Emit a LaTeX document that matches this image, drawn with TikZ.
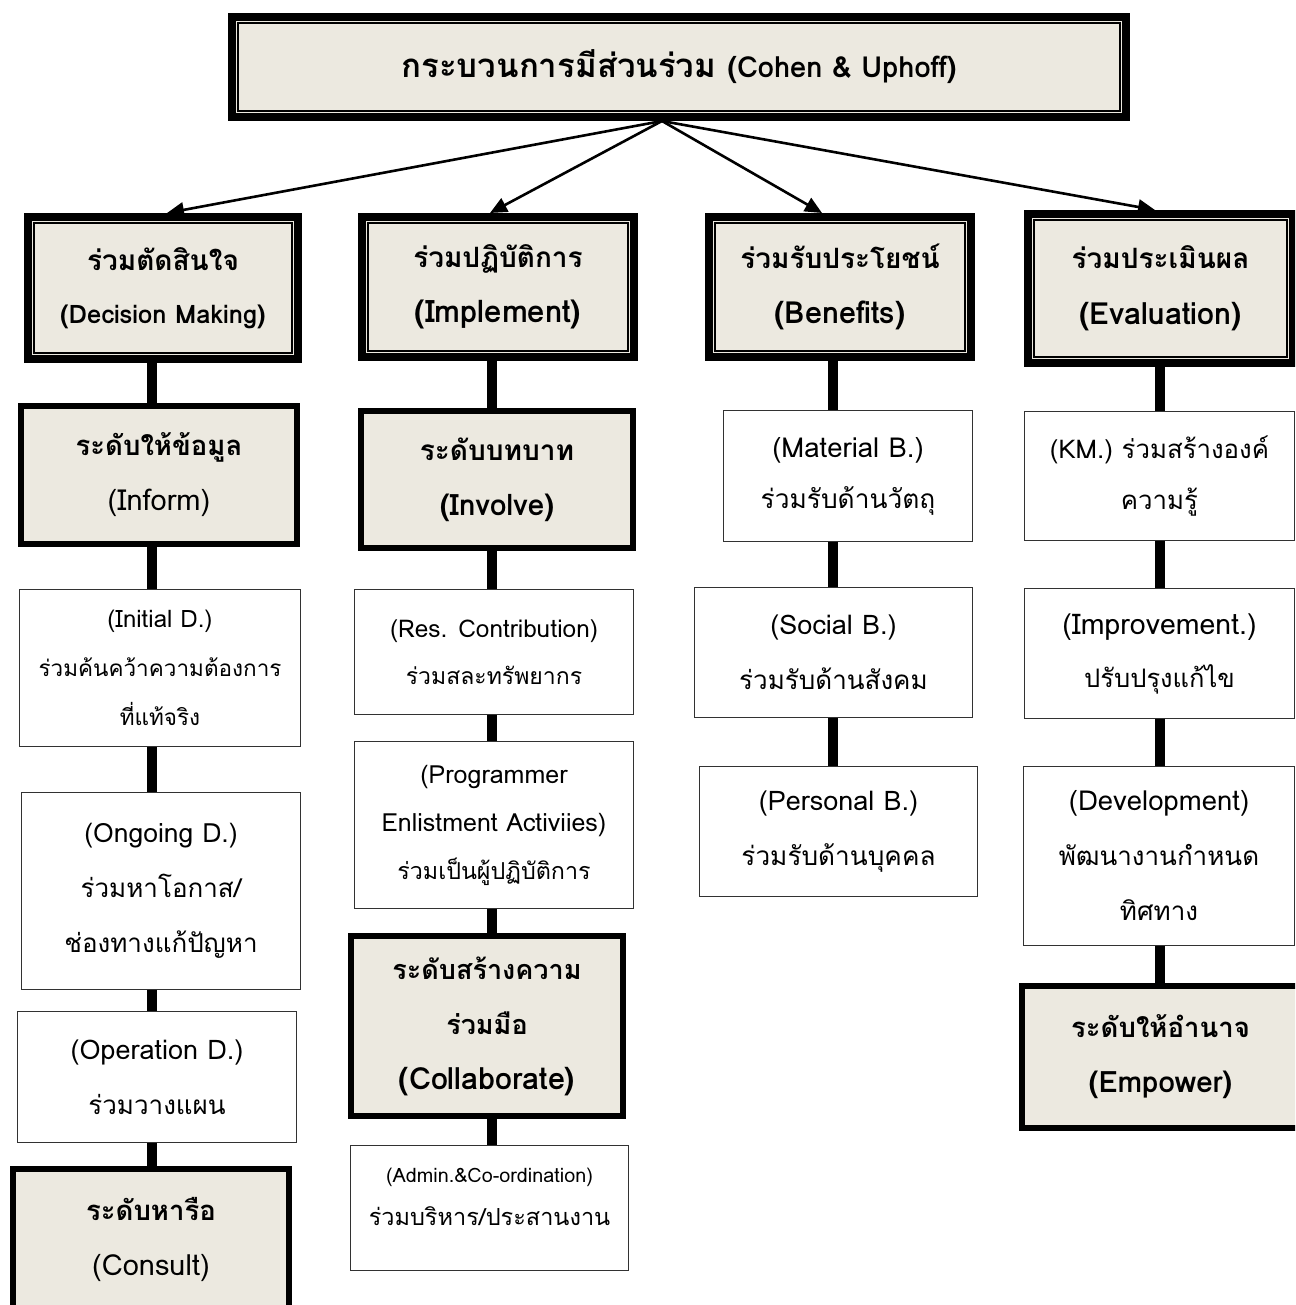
\documentclass[tikz,border=0pt]{standalone}
\usepackage{fontspec}
\setmainfont[Script=Thai]{Loma}
\usetikzlibrary{arrows.meta}
\definecolor{beige}{RGB}{236,233,224}
\definecolor{edgegray}{RGB}{50,50,50}
% name, line width, x1, y1, x2, y2, style, text
\newcommand\bx[8]{\node[#7, line width=#2pt, minimum width={#5-#3-#2}, minimum height={#6-#4-#2}] (#1) at ({(#3+#5)/2},{(#4+#6)/2}) {#8};}
\newcommand\innerframe[1]{\draw[line width=2pt] ([xshift=10pt,yshift=-10pt]#1.north west) rectangle ([xshift=-10pt,yshift=10pt]#1.south east);}
% size, text (line spacing comes from the node font)
\newcommand\fs[2]{{\fontsize{#1}{\baselineskip}\selectfont #2}}
\begin{document}
\begin{tikzpicture}[x=1pt,y=-1pt,
  ls/.style={font=\fontsize{20}{#1}\selectfont},
  hls/.style={font=\fontsize{20}{#1}\selectfont\bfseries},
  hdr/.style={draw=black, fill=beige, inner sep=0pt, align=center},
  lvl/.style={draw=black, fill=beige, inner sep=0pt, align=center},
  sub/.style={draw=edgegray, fill=white, inner sep=0pt, align=center},
  conn/.style={line width=10pt},
  arr/.style={line width=2.6pt, -{Triangle[length=17pt,width=15pt]}}]
\useasboundingbox (0,0) rectangle (1295,1305);
\clip (0,0) rectangle (1295,1305);
\fill[white] (0,0) rectangle (1295,1305);

% title
\bx{top}{8}{228}{13}{1130}{121}{hdr, hls=40}{\fs{33}{กระบวนการมีส่วนร่วม \fs{29}{(Cohen \& Uphoff)}}}
\innerframe{top}

% headers
\bx{h1}{8}{24}{213}{302}{363}{hdr, hls=53}{\fs{28}{ร่วมตัดสินใจ}\\\fs{25.5}{(Decision Making)}}
\bx{h2}{8}{358}{213}{638}{361}{hdr, hls=55}{\fs{28}{ร่วมปฏิบัติการ}\\\fs{31}{(Implement)}}
\bx{h3}{8}{705}{213}{975}{361}{hdr, hls=55}{\fs{28}{ร่วมรับประโยชน์}\\\fs{30.5}{(Benefits)}}
\bx{h4}{8}{1024}{210}{1297}{367}{hdr, hls=56}{\fs{28}{ร่วมประเมินผล}\\\fs{30.5}{(Evaluation)}}
\innerframe{h1}\innerframe{h2}\innerframe{h3}\innerframe{h4}

% column 1
\bx{l1}{6}{18}{403}{300}{547}{lvl, ls=55}{\fs{27.5}{\bfseries ระดับให้ข้อมูล}\\\fs{29}{(Inform)}}
\bx{a1}{1.3}{19}{589}{301}{747}{sub, ls=49}{\fs{24}{(Initial D.)}\\\fs{22.5}{ร่วมค้นคว้าความต้องการ}\\\fs{22.5}{ที่แท้จริง}}
\bx{a2}{1.3}{21}{792}{301}{990}{sub, ls=55}{\fs{26.5}{(Ongoing D.)}\\\fs{26}{ร่วมหาโอกาส/}\\\fs{26}{ช่องทางแก้ปัญหา}}
\bx{a3}{1.3}{17}{1011}{297}{1143}{sub, ls=55}{\fs{27}{(Operation D.)}\\\fs{26}{ร่วมวางแผน}}
\bx{l2}{6}{10}{1166}{292}{1312}{lvl, ls=55}{\fs{27.5}{\bfseries ระดับหารือ}\\\fs{29}{(Consult)}}

% column 2
\bx{l3}{6}{358}{408}{636}{551}{lvl, hls=55}{\fs{28}{ระดับบทบาท}\\\fs{29.5}{(Involve)}}
\bx{b1}{1.3}{354}{589}{634}{715}{sub, ls=47}{\fs{24.4}{(Res. Contribution)}\\\fs{23}{ร่วมสละทรัพยากร}}
\bx{b2}{1.3}{354}{741}{634}{909}{sub, ls=48}{\fs{25}{(Programmer}\\\fs{25}{Enlistment Activiies)}\\\fs{23.3}{ร่วมเป็นผู้ปฏิบัติการ}}
\bx{l4}{6}{348}{933}{626}{1119}{lvl, hls=55}{\fs{27}{ระดับสร้างความ}\\\fs{27}{ร่วมมือ}\\\fs{30.5}{(Collaborate)}}
\bx{b3}{1.3}{350}{1145}{629}{1271}{sub, ls=43}{\fs{19.8}{(Admin.\&Co-ordination)}\\\fs{23.5}{ร่วมบริหาร/ประสานงาน}\\[-21pt]\mbox{}}

% column 3
\bx{c1}{1.3}{723}{410}{973}{542}{sub, ls=51}{\fs{27.5}{(Material B.)}\\\fs{26.3}{ร่วมรับด้านวัตถุ}}
\bx{c2}{1.3}{694}{587}{973}{718}{sub, ls=55}{\fs{27}{(Social B.)}\\\fs{26}{ร่วมรับด้านสังคม}}
\bx{c3}{1.3}{699}{766}{978}{897}{sub, ls=55}{\fs{27}{(Personal B.)}\\\fs{26.2}{ร่วมรับด้านบุคคล}}

% column 4
\bx{d1}{1.3}{1024}{411}{1295}{541}{sub, ls=51}{\fs{25.8}{(KM.) ร่วมสร้างองค์}\\\fs{25.8}{ความรู้}}
\bx{d2}{1.3}{1024}{588}{1295}{719}{sub, ls=53}{\fs{28.5}{(Improvement.)}\\\fs{25.5}{ปรับปรุงแก้ไข}}
\bx{d3}{1.3}{1023}{766}{1295}{946}{sub, ls=55}{\fs{27.5}{(Development)}\\\fs{26}{พัฒนางานกำหนด}\\\fs{26}{ทิศทาง}}
\bx{l5}{6}{1019}{983}{1302}{1131}{lvl, hls=55}{\fs{27.5}{ระดับให้อำนาจ}\\\fs{29.5}{(Empower)}}

% column x positions
\coordinate (x1) at (152,0);
\coordinate (x2) at (492,0);
\coordinate (x3) at (833,0);
\coordinate (x4) at (1160,0);

% vertical connectors
\draw[conn] (h1.south -| x1) -- (l1.north -| x1);
\draw[conn] (l1.south -| x1) -- (a1.north -| x1);
\draw[conn] (a1.south -| x1) -- (a2.north -| x1);
\draw[conn] (a2.south -| x1) -- (a3.north -| x1);
\draw[conn] (a3.south -| x1) -- (l2.north -| x1);

\draw[conn] (h2.south -| x2) -- (l3.north -| x2);
\draw[conn] (l3.south -| x2) -- (b1.north -| x2);
\draw[conn] (b1.south -| x2) -- (b2.north -| x2);
\draw[conn] (b2.south -| x2) -- (l4.north -| x2);
\draw[conn] (l4.south -| x2) -- (b3.north -| x2);

\draw[conn] (h3.south -| x3) -- (c1.north -| x3);
\draw[conn] (c1.south -| x3) -- (c2.north -| x3);
\draw[conn] (c2.south -| x3) -- (c3.north -| x3);

\draw[conn] (h4.south -| x4) -- (d1.north -| x4);
\draw[conn] (d1.south -| x4) -- (d2.north -| x4);
\draw[conn] (d2.south -| x4) -- (d3.north -| x4);
\draw[conn] (d3.south -| x4) -- (l5.north -| x4);

% arrows from title
\coordinate (o) at (662,121);
\coordinate (e1) at (167,0);
\coordinate (e2) at (490,0);
\coordinate (e3) at (822,0);
\coordinate (e4) at (1155,0);
\draw[arr] (o) -- (h1.north -| e1);
\draw[arr] (o) -- (h2.north -| e2);
\draw[arr] (o) -- (h3.north -| e3);
\draw[arr] (o) -- (h4.north -| e4);
\end{tikzpicture}
\end{document}
